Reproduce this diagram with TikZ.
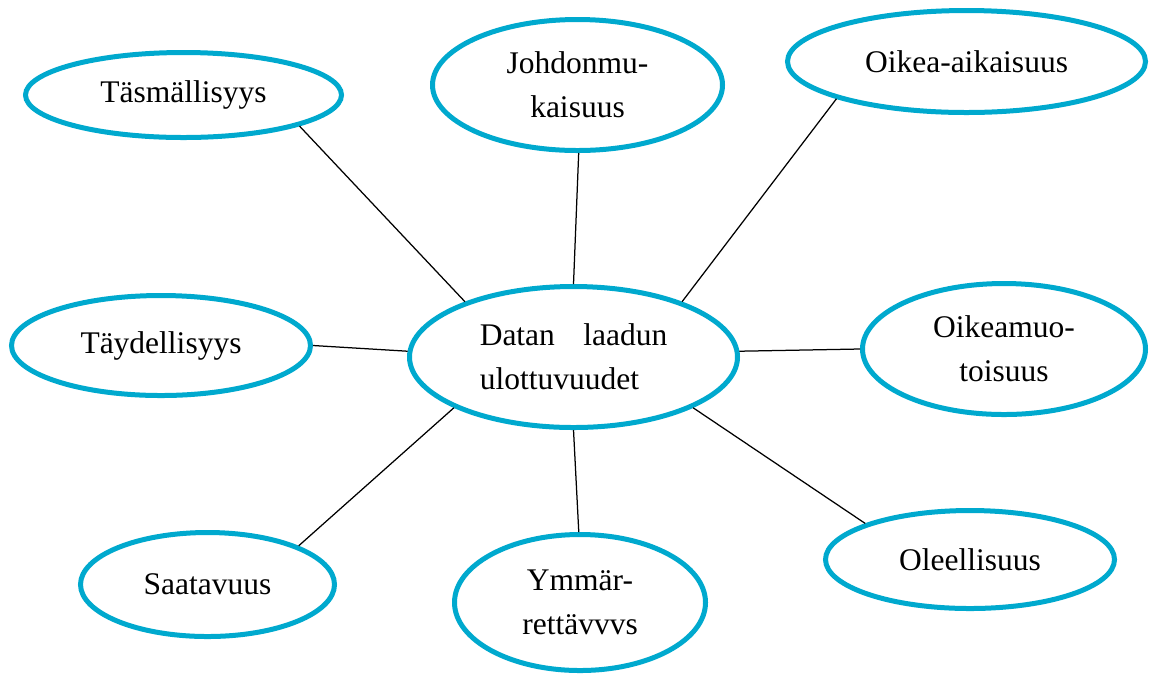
\documentclass[tikz,border=0pt]{standalone}
\usepackage{fontspec}
\setmainfont{Liberation Serif}
\usetikzlibrary{shapes.geometric}
\definecolor{dq_cyan}{HTML}{00A9CE}
\colorlet{ringcyan}{dq_cyan}
\tikzset{
  dimension/.style 2 args={ellipse,draw=ringcyan,line width=2pt,fill=white,inner sep=0pt,
    minimum width=#1*0.4pt,minimum height=#2*0.4pt,align=center,
    font=\fontsize{12.6}{17.5}\selectfont},
  link/.style={line width=0.5pt,black},
}

\begin{document}
\begin{tikzpicture}[x=0.4pt,y=-0.4pt]
  \useasboundingbox (0,0) rectangle (1151,675);
  % centre
  \node[dimension={328}{141},text width=75pt,align=left] (DQ) at (573.5,357) {Datan\hfill laadun\\ulottuvuudet};
  % dimensions round it
  \node[dimension={316}{85}] (TAS) at (183.5,95) {Täsmällisyys};
  \node[dimension={290}{131}] (JOH) at (577.5,85) {Johdonmu-\\kaisuus};
  \node[dimension={358}{102}] (OIK) at (966.5,61.5) {Oikea-aikaisuus};
  \node[dimension={299}{100}] (TAY) at (161,345.5) {Täydellisyys};
  \node[dimension={283}{131}] (OMU) at (1004,349) {Oikeamuo-\\toisuus};
  \node[dimension={254}{104}] (SAA) at (207.5,584.5) {Saatavuus};
  \node[dimension={251}{136}] (YMM) at (580,602.5) {Ymmär-\\rettävvvs};
  \node[dimension={289}{98}] (OLE) at (970,559.5) {Oleellisuus};
  % spokes
  \draw[link] (TAS.-15) -- (DQ.153);
  \draw[link] (JOH.-89) -- (DQ.90);
  \draw[link] (OIK.196) -- (DQ.27);
  \draw[link] (TAY.0) -- (DQ.178);
  \draw[link] (OMU.180) -- (DQ.2);
  \draw[link] (SAA.23) -- (DQ.203);
  \draw[link] (YMM.91) -- (DQ.-90);
  \draw[link] (OLE.161) -- (DQ.-23);
\end{tikzpicture}
\end{document}
